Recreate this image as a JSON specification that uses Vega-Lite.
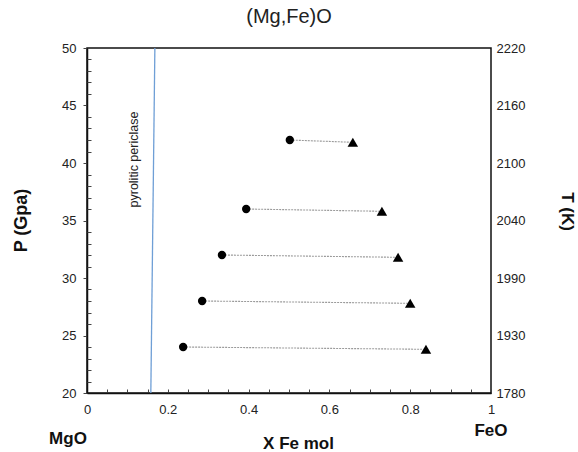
{
  "$schema": "https://vega.github.io/schema/vega-lite/v6.json",
  "width": 404,
  "height": 345,
  "autosize": "none",
  "padding": {"left": 87, "top": 48, "right": 87, "bottom": 59},
  "background": "white",
  "title": {"text": "(Mg,Fe)O", "fontSize": 20, "fontWeight": "normal", "color": "#222", "font": "Liberation Sans", "offset": 15, "anchor": "middle"},
  "config": {
    "font": "Liberation Sans",
    "view": {"stroke": "#111", "strokeWidth": 1.5},
    "axis": {"labelFont": "Liberation Sans", "labelFontSize": 13, "labelColor": "#222", "titleFont": "Liberation Sans", "titleColor": "#111", "grid": false, "domainColor": "#111", "domainWidth": 1.5, "tickColor": "#444"}
  },
  "datasets": {
    "pairs": [
      {"pair": 1, "kind": "circle", "X": 0.502, "P": 42.0},
      {"pair": 1, "kind": "triangle", "X": 0.658, "P": 41.8},
      {"pair": 2, "kind": "circle", "X": 0.394, "P": 36.0},
      {"pair": 2, "kind": "triangle", "X": 0.730, "P": 35.8},
      {"pair": 3, "kind": "circle", "X": 0.334, "P": 32.0},
      {"pair": 3, "kind": "triangle", "X": 0.770, "P": 31.8},
      {"pair": 4, "kind": "circle", "X": 0.285, "P": 28.0},
      {"pair": 4, "kind": "triangle", "X": 0.800, "P": 27.8},
      {"pair": 5, "kind": "circle", "X": 0.238, "P": 24.0},
      {"pair": 5, "kind": "triangle", "X": 0.839, "P": 23.8}
    ],
    "periclase": [
      {"X": 0.158, "P": 20},
      {"X": 0.168, "P": 50}
    ],
    "labels": [
      {"text": "pyrolitic periclase", "X": 0.116, "P": 40.3, "role": "note"},
      {"text": "MgO", "X": -0.047, "P": 16.0, "role": "end"},
      {"text": "FeO", "X": 1.0, "P": 16.7, "role": "end"}
    ]
  },
  "layer": [
    {
      "data": {"name": "periclase"},
      "mark": {"type": "line", "color": "#6f9fd6", "strokeWidth": 1.3},
      "encoding": {
        "x": {"field": "X", "type": "quantitative", "scale": {"domain": [0, 1], "nice": false, "zero": false},
          "axis": {"orient": "bottom", "title": "X Fe mol", "titleFontSize": 17, "titleFontWeight": "bold", "titleX": 211, "titleY": 50, "titleBaseline": "middle",
            "values": [0, 0.05, 0.1, 0.15, 0.2, 0.25, 0.3, 0.35, 0.4, 0.45, 0.5, 0.55, 0.6, 0.65, 0.7, 0.75, 0.8, 0.85, 0.9, 0.95, 1],
            "format": "~g", "labelExpr": "indexof(['0','0.2','0.4','0.6','0.8','1'], datum.label) >= 0 ? datum.label : ''",
            "tickSize": -4, "labelPadding": 14, "labelFlush": false, "labelOverlap": false}},
        "y": {"field": "P", "type": "quantitative", "scale": {"domain": [20, 50], "nice": false, "zero": false},
          "axis": {"orient": "left", "title": "P (Gpa)", "titleFontSize": 18, "titleFontWeight": "bold", "titleAngle": -90, "titleX": -66, "titleY": 172, "titleBaseline": "middle", "titleAlign": "center",
            "values": [20, 25, 30, 35, 40, 45, 50], "tickSize": 4, "labelPadding": 7}}
      }
    },
    {
      "data": {"name": "labels"},
      "transform": [{"filter": "datum.role == 'note'"}],
      "mark": {"type": "text", "angle": 270, "fontSize": 12.5, "color": "#222", "align": "center", "baseline": "middle"},
      "encoding": {
        "x": {"field": "X", "type": "quantitative", "axis": null},
        "y": {"field": "P", "type": "quantitative",
          "axis": {"orient": "left", "title": null, "labels": false, "domain": false,
            "values": [21, 22, 23, 24, 26, 27, 28, 29, 31, 32, 33, 34, 36, 37, 38, 39, 41, 42, 43, 44, 46, 47, 48, 49], "tickSize": -4}},
        "text": {"field": "text"}
      }
    },
    {
      "data": {"name": "pairs"},
      "mark": {"type": "line", "color": "#9a9a9a", "strokeWidth": 1.1, "strokeDash": [2, 1]},
      "encoding": {
        "x": {"field": "X", "type": "quantitative", "axis": null},
        "y": {"field": "P", "type": "quantitative",
          "axis": {"orient": "right", "title": "T  (K)", "titleFontSize": 17, "titleFontWeight": "bold", "titleAngle": 90, "titleX": 75, "titleY": 163, "titleBaseline": "middle", "titleAlign": "center",
            "values": [20, 25, 30, 35, 40, 45, 50], "ticks": false, "domain": false, "labelPadding": 5,
            "labelExpr": "datum.value == 20 ? '1780' : datum.value == 25 ? '1930' : datum.value == 30 ? '1990' : datum.value == 35 ? '2040' : datum.value == 40 ? '2100' : datum.value == 45 ? '2160' : '2220'"}},
        "detail": {"field": "pair"}
      }
    },
    {
      "data": {"name": "pairs"},
      "mark": {"type": "point", "filled": true, "opacity": 1, "color": "#000"},
      "encoding": {
        "x": {"field": "X", "type": "quantitative", "axis": null},
        "y": {"field": "P", "type": "quantitative", "axis": null},
        "shape": {"field": "kind", "type": "nominal", "scale": {"domain": ["circle", "triangle"], "range": ["circle", "triangle-up"]}, "legend": null},
        "size": {"field": "kind", "type": "nominal", "scale": {"domain": ["circle", "triangle"], "range": [70, 110]}, "legend": null}
      }
    },
    {
      "data": {"name": "labels"},
      "transform": [{"filter": "datum.role == 'end'"}],
      "mark": {"type": "text", "fontSize": 17, "fontWeight": "bold", "color": "#111", "align": "center", "baseline": "middle", "clip": false},
      "encoding": {
        "x": {"field": "X", "type": "quantitative", "axis": null},
        "y": {"field": "P", "type": "quantitative", "axis": null},
        "text": {"field": "text"}
      }
    }
  ],
  "resolve": {"axis": {"x": "independent", "y": "independent"}}
}
